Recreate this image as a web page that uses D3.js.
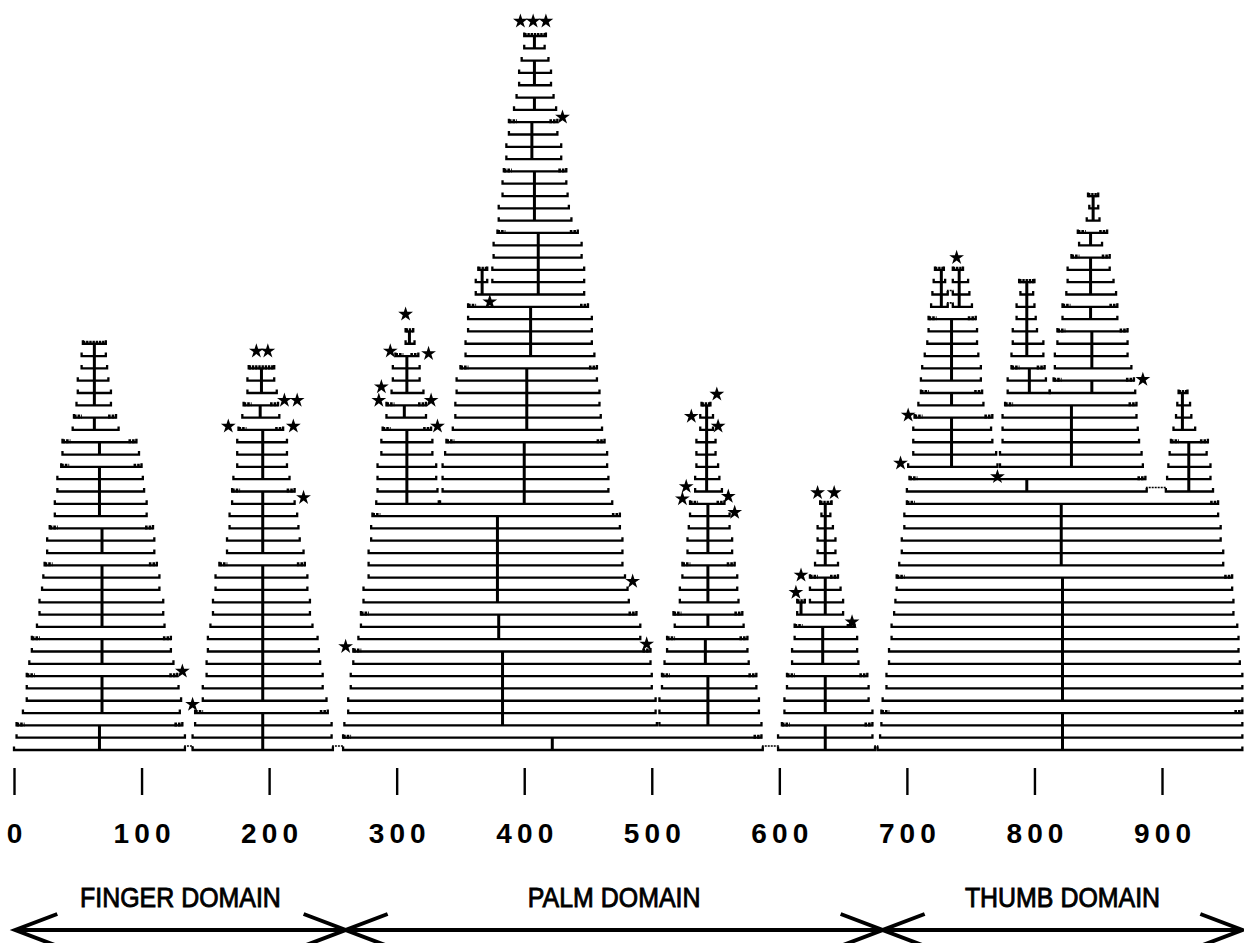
<!DOCTYPE html>
<meta charset="utf-8">
<style>
body { margin: 0; background: #fff; }
svg { display: block; }
.row { fill: none; stroke: #000; stroke-width: 2.3; }
.cap { fill: none; stroke: #000; stroke-width: 4.2; stroke-dasharray: 2.4,0.8; }
.endmark { fill: none; stroke: #000; stroke-width: 4; stroke-dasharray: 2.6,1; }
.stem { stroke: #000; stroke-width: 3; }
.link { fill: none; stroke: #000; stroke-width: 1.6; stroke-dasharray: 2,1; }
.arrow { fill: none; stroke: #000; stroke-width: 4; }
.dlabel { font-family: "Liberation Sans", Arial, sans-serif; font-size: 28px; stroke: #000; stroke-width: 0.9; }
</style>
<body>
<script src="https://cdn.jsdelivr.net/npm/d3@7"></script>
<script>

// rows: [level, first residue, last residue]
var fingerRows = [
  [33,54,72],[32,53,72],[31,53,73],[30,50,74],[29,50,76],[28,49,76],[27,47,80],[26,46,82],
  [25,38,96],[24,38,98],[23,37,100],[22,34,101],[21,34,102],[20,32,104],[19,32,104],
  [18,28,109],[17,26,110],[16,26,110],[15,24,112],[14,23,114],[13,22,114],[12,20,117],
  [11,20,117],[10,18,118],[9,14,123],[8,14,123],[7,12,125],[6,10,128],[5,10,129],
  [4,10,131],[3,7,130],[2,2,132],[1,2,134],[0,0,134],
  [31,184,204],[30,183,204],[29,183,206],[28,180,207],[27,179,208],[26,176,211],
  [25,175,214],[24,175,214],[23,175,214],[22,172,216],[21,171,220],[20,171,220],
  [19,169,222],[18,169,223],[17,167,224],[16,167,227],[15,161,228],[14,158,230],
  [13,158,230],[12,156,232],[11,156,232],[10,154,234],[9,152,238],[8,152,239],
  [7,151,240],[6,151,242],[5,148,242],[4,148,245],[3,142,246],[2,142,249],[1,140,249],[0,140,250]
];

var palmRows = [
  [34,307,313],[33,307,314],[32,299,317],[31,297,318],[30,297,318],[29,296,321],[28,292,323],
  [27,292,323],[26,289,327],[25,288,328],[24,288,328],[23,285,331],[22,285,331],[21,285,332],[20,284,333],
  [58,400,417],[57,400,416],[56,398,419],[55,396,421],[54,396,421],[53,394,423],[52,392,425],
  [51,388,426],[50,388,426],[49,386,429],[48,386,429],[47,384,433],[46,383,433],[45,383,434],
  [44,380,435],[43,380,437],[42,379,442],[41,376,445],[40,376,445],[39,375,447],[38,375,447],
  [37,362,447],[36,356,450],[35,356,453],[34,356,453],[33,354,453],[32,354,455],[31,350,457],
  [30,347,457],[29,347,459],[28,346,459],[27,346,460],[26,344,461],[25,339,463],[24,338,465],
  [23,336,465],[22,336,466],[21,336,466],[20,334,469],
  [39,364,371],[38,362,371],
  [19,281,475],[18,280,475],[17,280,477],[16,278,477],[15,278,477],[14,278,479],[13,274,481],
  [12,274,482],[11,272,488],[10,272,491],[9,270,491],[8,266,499],[7,266,499],[6,264,500],
  [5,264,500],[4,262,503],[3,262,503],[2,259,504],
  [28,539,546],[27,538,548],[26,538,548],[25,535,550],[24,535,550],[23,535,552],[22,534,553],
  [21,534,555],[20,530,557],[19,530,561],[18,529,561],[17,528,563],[16,528,563],[15,524,565],
  [14,524,567],[13,522,567],[12,522,568],[11,517,571],[10,518,572],[9,512,575],[8,512,575],
  [7,510,576],[6,508,582],[5,508,582],[4,506,584],[3,506,584],[2,506,586],
  [1,258,586],[0,258,587],
  [20,632,641],[19,633,640],[18,630,642],[17,630,644],[16,630,644],[15,628,646],[14,624,646],
  [13,624,648],[12,624,650],[12,614,620],[11,614,650],[10,612,659],[9,612,661],[8,610,661],
  [7,610,662],[6,606,669],[5,606,670],[4,604,670],[3,604,673],[2,602,673],[1,599,673],[0,599,675]
];

var thumbRows = [
  [39,722,729],[38,721,730],[37,720,732],[36,719,732],
  [39,736,744],[38,736,748],[37,736,749],[36,736,751],
  [35,717,754],[34,717,755],[33,716,755],[32,714,756],[31,712,758],[30,711,758],[29,711,759],
  [28,709,760],[27,706,767],[26,705,766],[25,705,767],[24,705,770],[23,701,771],
  [38,788,800],[37,789,799],[36,786,800],[35,786,801],[34,783,802],[33,783,807],[32,782,807],
  [31,782,808],[30,779,809],[29,779,812],
  [45,842,850],[44,843,850],[43,841,851],[42,834,857],[41,835,853],[40,829,859],[39,826,859],
  [38,826,862],[37,825,864],[36,822,865],[35,822,865],[34,818,873],[33,818,873],[32,816,873],
  [31,816,876],[30,815,878],[29,812,879],
  [28,777,880],[27,775,880],[26,775,881],[25,775,882],[24,773,884],[23,773,885],
  [22,702,887],[21,700,888],
  [29,913,920],[28,912,922],[27,911,923],[26,909,926],[25,907,936],[24,906,935],[23,905,938],
  [22,904,938],[21,903,940],
  [20,700,944],[19,698,944],[18,698,946],[17,696,946],[16,696,948],[15,694,948],[14,692,955],
  [13,692,955],[12,691,956],[11,690,956],[10,688,959],[9,688,960],[8,686,960],[7,686,961],
  [6,684,963],[5,684,963],[4,681,963],[3,680,963],[2,680,963],[1,679,963],[0,677,963]
];

// stems: [residue, top level, bottom level, marked(optional 0 = no end marks)]
var fingerStems = [
  [63,33,28],[63,27,26],[67,25,24],[67,23,19],[69,18,16],[69,15,10],[69,9,7],[69,6,3],[67,2,0],
  [194,31,29],[193,28,27],[195,26,22],[195,21,16],[195,15,4],[195,3,0]
];
var palmStems = [
  [310,34,33],[308,32,29],[306,28,27],[308,26,20],
  [408,58,57],[408,56,54,0],[408,53,52,0],[406,51,48],[408,47,43],[411,42,37],[405,36,32],
  [402,31,26],[400,25,20],[367,39,37],
  [379,19,12],[380,11,9],[383,8,2],[422,1,0],
  [543,28,21],[544,20,16],[544,15,12],[544,11,10],[542,9,7],[544,6,2],
  [636,20,15],[636,14,11],[617,12,11],[634,10,7],[636,6,3],[636,2,0]
];
var thumbStems = [
  [727,39,36],[741,39,36],[735,35,30],[735,29,28],[735,27,23],
  [794,38,32],[796,31,29],
  [846,45,43],[844,42,41],[844,40,37],[844,36,35],[845,34,31],[845,30,29],
  [829,28,23],[794,22,21],
  [916,29,26],[921,25,21],
  [821,20,15],[822,14,4],[822,3,0]
];

// raised links between neighbouring segments: [level, from, to]
var links = [[0,134,140],[0,250,258],[0,587,599],[0,675,677],[21,888,903],[37,732,736],[36,732,736]];

// stars: [residue, level]
var fingerStars = [[190,32.4],[199,32.4],[212,28.4],[222,28.4],[168,26.3],[219,26.3],[227,20.5],[132,6.4],[140,3.7]];
var palmStars = [
  [397,59.2],[407,59.2],[417,59.2],[430,51.4],[373,36.4],[485,13.7],[260,8.4],[496,8.6],
  [307,35.4],[295,32.4],[325,32.2],[288,29.5],[286,28.4],[327,28.4],[332,26.3],
  [551,28.9],[531,27.1],[552,26.3],[527,21.4],[524,20.4],[560,20.6],[565,19.3],
  [630,20.9],[643,20.9],[617,14.2],[613,12.8],[657,10.4]
];
var thumbStars = [[739,40],[701,27.2],[695,23.3],[771,22.2],[885,30.1]];

var ticks = [0, 100, 200, 300, 400, 500, 600, 700, 800, 900];
var domainNames = ["FINGER DOMAIN", "PALM DOMAIN", "THUMB DOMAIN"];
var domainBreaks = [1, 260, 681, 963];

var width = 1244, height = 943;

var x = d3.scaleLinear().domain([0, 900]).range([14, 1162]);
var y = d3.scaleLinear().domain([0, 58]).range([750, 36]);

var svg = d3.select("body").append("svg")
  .attr("width", width)
  .attr("height", height);

var rows = fingerRows.concat(palmRows, thumbRows);
var stems = fingerStems.concat(palmStems, thumbStems);
var stars = fingerStars.concat(palmStars, thumbStars);

function isPeakTop(d) {
  return !rows.some(function(e) {
    return e[0] === d[0] + 1 && e[1] <= d[2] && e[2] >= d[1];
  });
}

var hook = 3.5;

svg.append("g").selectAll("path")
  .data(rows)
  .enter().append("path")
    .attr("class", "row")
    .attr("d", function(d) {
      var yy = y(d[0]), x1 = x(d[1]), x2 = x(d[2]);
      return "M" + x1 + "," + (yy - hook) + "V" + yy + "H" + x2 + "V" + (yy - hook);
    });

// peak tops drawn as a heavy broken bar
svg.append("g").selectAll("line")
  .data(rows.filter(isPeakTop))
  .enter().append("line")
    .attr("class", "cap")
    .attr("x1", function(d) { return x(d[1]); })
    .attr("x2", function(d) { return x(d[2]); })
    .attr("y1", function(d) { return y(d[0]) - 1; })
    .attr("y2", function(d) { return y(d[0]) - 1; });

// first row of every stem group gets broken end marks
var groupTops = [];
stems.forEach(function(s) {
  if (s[3] === 0) return;
  var r = rows.find(function(d) { return d[0] === s[1] && d[1] <= s[0] && d[2] >= s[0]; });
  if (r && !isPeakTop(r)) groupTops.push(r);
});

var ends = svg.append("g");
groupTops.forEach(function(d) {
  var yy = y(d[0]) - 1, x1 = x(d[1]), x2 = x(d[2]);
  ends.append("line").attr("class", "endmark")
    .attr("x1", x1).attr("x2", x1 + 8).attr("y1", yy).attr("y2", yy);
  ends.append("line").attr("class", "endmark")
    .attr("x1", x2 - 8).attr("x2", x2).attr("y1", yy).attr("y2", yy);
});

svg.append("g").selectAll("line")
  .data(stems)
  .enter().append("line")
    .attr("class", "stem")
    .attr("x1", function(d) { return x(d[0]); })
    .attr("x2", function(d) { return x(d[0]); })
    .attr("y1", function(d) { return y(d[1]); })
    .attr("y2", function(d) { return y(d[2]); });

svg.append("g").selectAll("path")
  .data(links)
  .enter().append("path")
    .attr("class", "link")
    .attr("d", function(d) {
      var yy = y(d[0]);
      return "M" + x(d[1]) + "," + yy + "V" + (yy - 4) + "H" + x(d[2]) + "V" + yy;
    });

var star = d3.symbol().type(d3.symbolStar).size(68);
svg.append("g").selectAll("path")
  .data(stars)
  .enter().append("path")
    .attr("d", star)
    .attr("fill", "#000")
    .attr("transform", function(d) { return "translate(" + x(d[0]) + "," + y(d[1]) + ")"; });

// axis
var xAxis = d3.axisBottom(x)
  .tickValues(ticks)
  .tickSizeInner(27)
  .tickSizeOuter(0)
  .tickFormat(d3.format("d"));

var ax = svg.append("g")
  .attr("transform", "translate(0,768)")
  .call(xAxis);

ax.select(".domain").remove();
ax.selectAll(".tick line").attr("stroke-width", 2.4);
ax.selectAll(".tick text")
  .attr("y", 75)
  .attr("dy", 0)
  .attr("font-size", 28)
  .attr("font-weight", "bold")
  .attr("font-family", "'Liberation Sans', Arial, sans-serif")
  .each(function(d) {
    if (d >= 100) d3.select(this).attr("textLength", 57).attr("lengthAdjust", "spacing");
  });

// domains
var arrowY = 930, armX = 42, armY = 16;
svg.append("path")
  .attr("class", "arrow")
  .attr("d", "M" + x(domainBreaks[0]) + "," + arrowY + "H" + x(domainBreaks[domainBreaks.length - 1]));

domainBreaks.forEach(function(b, i) {
  var bx = x(b);
  if (i > 0) {
    svg.append("path").attr("class", "arrow")
      .attr("d", "M" + (bx - armX) + "," + (arrowY - armY) + "L" + bx + "," + arrowY + "L" + (bx - armX) + "," + (arrowY + armY));
  }
  if (i < domainBreaks.length - 1) {
    svg.append("path").attr("class", "arrow")
      .attr("d", "M" + (bx + armX) + "," + (arrowY - armY) + "L" + bx + "," + arrowY + "L" + (bx + armX) + "," + (arrowY + armY));
  }
});

svg.append("g").selectAll("text")
  .data(domainNames)
  .enter().append("text")
    .attr("class", "dlabel")
    .attr("text-anchor", "middle")
    .attr("x", function(d, i) { return x((domainBreaks[i] + domainBreaks[i + 1]) / 2); })
    .attr("y", 907)
    .text(function(d) { return d; })
    .each(function() {
      var w = this.getComputedTextLength();
      d3.select(this).attr("textLength", w * 0.89).attr("lengthAdjust", "spacingAndGlyphs");
    });

</script>
</body>
